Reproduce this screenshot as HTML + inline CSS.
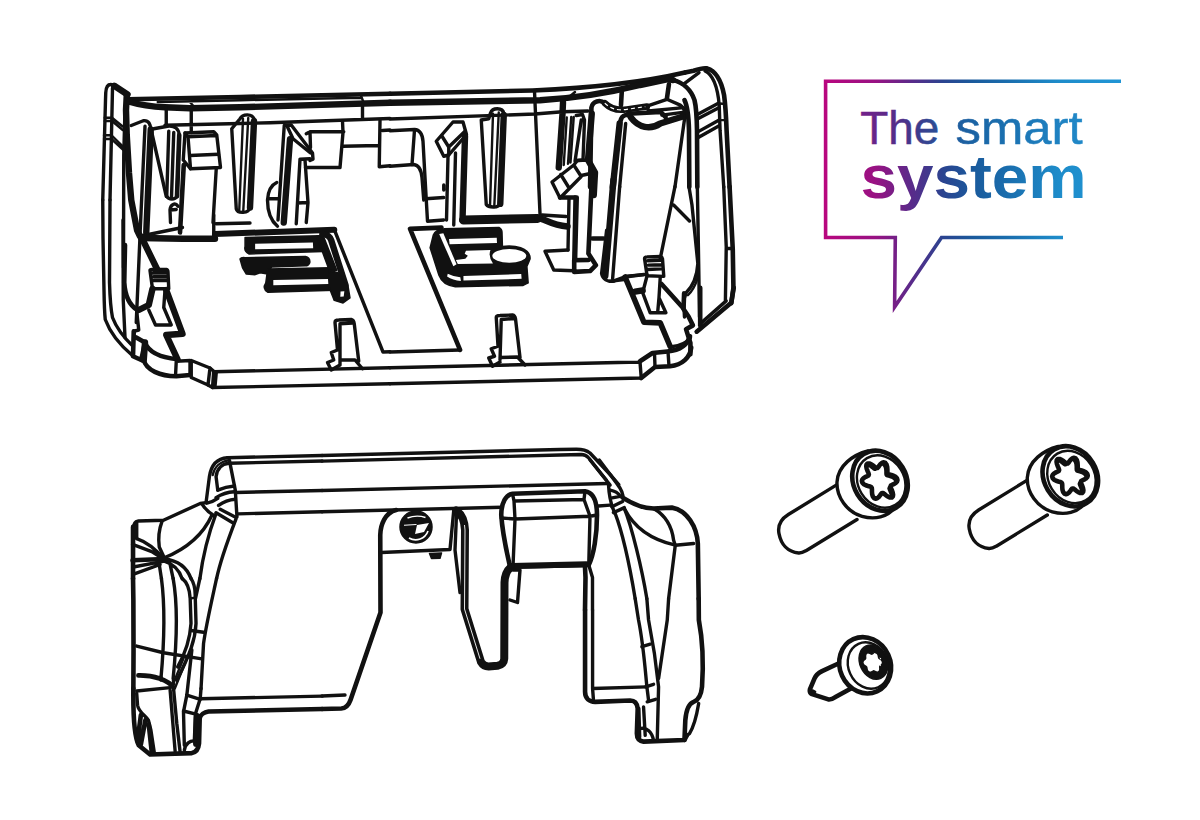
<!DOCTYPE html>
<html lang="en"><head><meta charset="utf-8"><title>The smart system</title>
<style>
html,body{margin:0;padding:0;background:#fff;}
body{width:1200px;height:820px;overflow:hidden;font-family:"Liberation Sans",sans-serif;}
svg{display:block;}
.k,.k2,.k3,.k4,.w{fill:none;stroke:#111;stroke-width:3.4px;stroke-linecap:round;stroke-linejoin:round;vector-effect:non-scaling-stroke;}
.k2{stroke-width:4.6px;}
.k3{stroke-width:2.4px;}
.k4{stroke-width:6.4px;}
.w{fill:#fff;}
.f{fill:#111;stroke:#111;stroke-width:1.5px;stroke-linejoin:round;vector-effect:non-scaling-stroke;}
</style></head><body>
<svg width="1200" height="820" viewBox="0 0 1200 820">
<rect width="1200" height="820" fill="#fff"/>
<defs>
<linearGradient id="lg" gradientUnits="userSpaceOnUse" x1="825" y1="0" x2="1121" y2="0">
<stop offset="0" stop-color="#b8067e"/>
<stop offset="0.17" stop-color="#981283"/>
<stop offset="0.29" stop-color="#5a2a8a"/>
<stop offset="0.40" stop-color="#2a4490"/>
<stop offset="0.50" stop-color="#1a5a9c"/>
<stop offset="0.62" stop-color="#1a6eae"/>
<stop offset="0.79" stop-color="#1e8cca"/>
<stop offset="1" stop-color="#2095d5"/>
</linearGradient>
<linearGradient id="lg1" gradientUnits="userSpaceOnUse" x1="861" y1="0" x2="1082" y2="0">
<stop offset="0" stop-color="#73208a"/>
<stop offset="0.13" stop-color="#5a2a88"/>
<stop offset="0.25" stop-color="#3f3a8c"/>
<stop offset="0.40" stop-color="#1f5a9c"/>
<stop offset="0.56" stop-color="#1a68a8"/>
<stop offset="0.75" stop-color="#1c78b8"/>
<stop offset="1" stop-color="#2088c8"/>
</linearGradient>
</defs>
<g id="logo">
<path d="M1121,81.3 L825.6,81.3 L825.6,237.5 L895.3,237.5 L894.6,307 L941.5,237.5 L1063,237.5" fill="none" stroke="url(#lg)" stroke-width="3.6" stroke-miterlimit="10"/>
<g font-family="'Liberation Sans',sans-serif" font-size="45.5" fill="url(#lg1)" stroke="url(#lg1)" stroke-width="0.5">
<text x="860.3" y="143.8" textLength="79" lengthAdjust="spacingAndGlyphs">The</text>
<text x="955.5" y="143.8" textLength="127" lengthAdjust="spacingAndGlyphs">smart</text>
</g>
<text x="860.5" y="198.3" font-family="'Liberation Sans',sans-serif" font-weight="bold" font-size="61.5" fill="url(#lg)" textLength="226" lengthAdjust="spacingAndGlyphs">system</text>
</g>

<g id="topA" transform="translate(90,60) scale(0.25)">
<!-- flange -->
<path class="k" d="M51,560 L62,160 L63,131 C64,108 72,98 83,98 C91,98 96,101 100,104"/>
<path class="k4" d="M97,103 L150,138"/>
<path class="k" d="M80,560 L89,160 L90,112"/>
<path class="k4" d="M147,140 L144,200 L147,300 L156,452 L165,560 L188,680 L200,705"/>
<path class="k" d="M140,200 L135,380 L134,830"/>
<path class="k3" d="M59,231 L88,231 L131,266 M59,244 L88,244 L131,280 M56,301 L86,301 L136,350 M56,316 L86,316 L136,362"/>
<!-- rim -->
<path class="k2" d="M150,157 L600,148 L1200,135"/>
<path class="k4" d="M158,167 C200,180 250,187 300,189 L400,193 L600,189 L1200,171"/>
<path class="k3" d="M271,168 L600,161 L1085,151 M398,166 L415,186 M1083,140 L1095,172"/>
<path class="k" d="M300,261 L600,254 L720,251 L1200,234 M305,190 L305,256 M405,187 L405,290 M1090,180 L1090,235"/>
<!-- rib1 -->
<path class="k" d="M165,262 L213,243 C235,240 243,258 243,280"/>
<path class="k" d="M220,265 L200,700"/>
<path class="k4" d="M243,278 L225,690"/>
<path class="k" d="M247,290 L305,545"/>
<!-- rib2 -->
<path class="k" d="M255,275 L310,265 C340,262 355,275 357,300 L348,545 C340,560 315,560 307,545"/>
<path class="k" d="M315,285 L307,545 M335,290 L326,548"/>
<path class="k2" d="M357,300 L348,545"/>
<path class="k" d="M322,650 L320,600 C322,578 340,568 352,585 M320,600 L345,598"/>
<!-- block -->
<path class="k2" d="M375,420 L360,690"/>
<path class="k" d="M380,292 L495,287 L507,300 L522,430 L402,435 L392,307 L505,302"/>
<path class="k" d="M380,292 L392,307 M400,382 L514,377 M380,292 L373,400 L402,435"/>
<path class="k" d="M505,435 L492,650"/>
<!-- rib3 -->
<path class="k" d="M567,275 L600,235 C610,215 650,212 658,240 L640,590 C635,615 590,615 585,595 Z"/>
<path class="k3" d="M612,235 L597,600 M633,232 L613,605"/>
<path class="k4" d="M656,245 L640,590"/>
<!-- hook -->
<path class="k" d="M777,262 L752,640 M777,262 L805,260 L890,372 L892,397 L880,402"/>
<path class="k" d="M790,268 L812,315 L882,372 M812,315 L800,317"/>
<path class="k4" d="M800,317 L775,650"/>
<path class="k" d="M840,397 L880,395 M840,397 L825,655 M860,400 L872,570 L830,572 M872,570 L865,650"/>
<path class="k" d="M862,430 L1000,430 L1012,290 L1010,245 M865,295 L880,287 L1015,287 M880,287 L882,350"/>
<path class="k" d="M1012,345 L1155,342 M1160,242 L1157,427 L1200,423 M1170,282 L1200,280"/>
<path class="k" d="M747,490 C725,500 712,525 710,560 C710,600 720,640 750,665 M713,555 L752,555"/>
</g>
<g id="topB" transform="translate(390,60) scale(0.25)">
<path class="k2" d="M0,135 L570,122 C800,112 1000,92 1180,50"/>
<path class="k4" d="M0,171 L600,161 C750,152 900,125 1000,100 L1112,76"/>
<path class="k" d="M578,125 L600,615"/>
<path class="k3" d="M690,170 L740,128"/>
<path class="k" d="M608,620 L704,626"/>
<path class="k" d="M0,236 L580,216 L690,207 L792,204"/>
<!-- step box -->
<path class="k" d="M0,283 L98,278 C122,280 130,300 132,325 L140,470 L150,645 L215,640"/>
<path class="k" d="M0,425 L95,418 C115,420 125,440 128,470 L135,560 M143,555 L215,550"/>
<path class="k" d="M98,280 L88,418"/>
<!-- hook2 -->
<path class="k" d="M185,325 L252,248 L292,248 L306,298 L235,380 L215,385 Z"/>
<path class="k" d="M208,305 L235,348 L300,285 M235,348 L235,380"/>
<path class="k" d="M232,385 L226,640 M262,372 L255,660 M215,500 L215,520"/>
<path class="k4" d="M300,305 L290,640"/>
<!-- rib5 -->
<path class="k" d="M365,240 L395,235 L402,212 C410,190 450,188 456,215 L440,575 C435,592 395,592 385,578 Z"/>
<path class="k3" d="M412,215 L400,585 M435,210 L417,588"/>
<path class="k4" d="M455,220 L441,575"/>
<!-- floor junction -->
<path d="M294,640 L590,634" fill="none" stroke="#111" stroke-width="9" stroke-linecap="round" vector-effect="non-scaling-stroke"/>
<path class="k4" d="M590,632 C620,634 640,660 710,666"/>
<!-- ribs 6 and hook 3 -->
<path class="k4" d="M692,170 L690,215 L675,430"/>
<path class="k3" d="M707,230 L695,420 M725,228 L712,415 M735,228 L722,410"/>
<path class="k" d="M745,222 L770,218 L778,240 L772,400 L750,402 M765,240 L740,405"/>
<path class="k4" d="M807,215 L792,400 L820,450 L815,540"/>
<path class="k" d="M648,488 L735,420 L765,466 L680,552 Z M683,458 L715,510 M750,402 L792,400 L820,450 L765,462 M735,420 L750,402"/>
<path class="k" d="M740,548 L735,800 M716,556 L712,760"/>
</g>
<g id="topC1" transform="translate(560,50) scale(0.16708)">
<path class="k2" d="M748,135 L800,124 C835,112 860,106 880,110 C930,125 965,180 982,270 C990,330 995,420 997,480 L1015,820"/>
<path class="k4" d="M646,174 L676,180"/>
<path class="k2" d="M676,180 C736,195 785,240 805,300 C815,340 819,420 820,480 L822,820"/>
<path class="k" d="M868,126 C920,150 945,240 953,330 L958,480 L980,820"/>
<path class="k" d="M742,203 L832,135"/>
<path class="k2" d="M370,245 L365,330 M652,205 L640,290"/>
<path class="k" d="M825,385 L945,320 M825,412 L945,348 M825,490 L950,420 M825,525 L950,455"/>
<path class="k3" d="M945,320 L975,322 M950,420 L985,420"/>
<!-- big clip top -->
<path class="k2" d="M180,820 L188,345 C195,305 240,295 268,318"/>
<path class="k4" d="M268,318 C300,350 340,365 400,355 L520,338"/>
<path d="M268,318 C300,350 340,365 400,355 L520,338" fill="none" stroke="#fff" stroke-width="1.2" stroke-dasharray="4 3" vector-effect="non-scaling-stroke"/>
<path class="k" d="M520,338 L530,365 L740,345 M525,335 L640,295 L720,330 C740,345 745,360 748,380 M610,390 L745,372"/>
<path class="k4" d="M316,820 L357,440"/>
<path class="k2" d="M357,440 L362,425 C370,385 410,378 425,405"/>
<path class="k4" d="M425,405 C470,465 540,480 600,440 L745,395"/>
<path class="k2" d="M407,382 L602,371 L632,401"/>
<path class="k" d="M357,820 L393,440 M748,395 L688,820"/>
<path class="k2" d="M745,300 C760,330 770,400 772,480 L774,820"/>
</g>
<g id="topC2" transform="translate(560,180) scale(0.16708)">
<path class="k2" d="M1015,40 L1034,415 L1038,645 L1025,738"/>
<path class="k" d="M980,40 L995,400 L990,720 M995,410 L1030,410"/>
<path class="k" d="M822,40 L830,500 L835,820"/>
<path class="k" d="M772,40 L790,150 L805,300 L825,500 C820,580 800,630 755,675 L740,720 L745,820"/>
<path class="k" d="M688,40 L600,470 M680,150 L775,245"/>
<!-- clip bottom -->
<path class="k4" d="M320,0 L271,575"/>
<path class="k" d="M279,301 L249,560 C255,595 285,610 320,605"/>
<path class="k" d="M320,605 L400,575 L520,565"/>
<path class="k" d="M357,40 L315,590"/>
<!-- left column bottom -->
<path class="k2" d="M190,0 L170,440 L215,510 L180,545 L85,550 L85,480 L170,478 M100,105 L90,480 M0,105 L100,105 M195,350 L260,350"/>
</g>
<g id="topD" transform="translate(90,200) scale(0.25)">
<!-- left wall lower -->
<path class="k" d="M51,0 L52,150 L56,360 C57,420 58,450 61,478 C80,530 125,585 172,624"/>
<path class="k" d="M80,0 L78,330 C80,400 84,440 90,470 C105,510 135,550 172,585"/>
<path class="k" d="M132,80 L133,400 L140,550"/>
<path class="k2" d="M140,180 L137,330 C140,380 155,420 190,440"/>
<path class="k" d="M200,145 L185,490"/>
<path class="k4" d="M205,147 L270,280"/>
<path class="k" d="M200,145 L370,110"/>
<path class="k4" d="M205,152 L370,155 L500,155"/>
<path class="k" d="M495,60 L495,155 M505,95 L640,92"/>
<!-- latch L -->
<path class="k" d="M240,282 Q240,278 248,278 L305,278 Q312,280 312,288 L315,355 L250,355 Z M252,292 L306,292 M254,307 L308,307 M255,322 L310,322"/>
<path class="k4" d="M250,355 L235,420 L195,440"/>
<path class="k4" d="M305,360 L370,535 L305,540 L350,637"/>
<path class="k" d="M300,360 L295,430 L325,500 L262,500 L235,440"/>
<path class="k" d="M185,430 L195,520 L175,525"/>
<!-- corner blocks -->
<path class="k2" d="M175,525 L172,625 L205,640 L220,570 L185,550"/>
<path class="k2" d="M220,570 C235,610 280,630 350,637"/>
<path class="k2" d="M215,640 C225,680 280,705 345,705 L400,700"/>
<path class="k4" d="M220,570 L215,640"/>
<path class="k" d="M345,645 L400,642 L400,700 M345,645 L342,705"/>
<path class="k" d="M405,642 L480,672 L472,740 L405,710 Z"/>
<path class="k" d="M480,672 L495,685 L490,750 L472,740 M505,690 L500,745"/>
<path class="k" d="M495,687 L1200,671 M490,750 L1200,735"/>
<!-- platform edge -->
<path class="k" d="M977,118 L1172,608 L1200,607"/>
<!-- centre latch -->
<path class="k" d="M980,490 Q980,480 995,480 L1045,478 Q1055,480 1057,495 L1075,645 M1000,495 L1050,492 M1000,495 L1000,660 M980,490 L990,600 L965,610 L975,640 L950,650 L965,680 L1000,660 M1000,640 L1060,640 L1090,675"/>
</g>
<g id="topCN" transform="translate(230,220) scale(0.12563)">
<path d="M-120,112 L830,78" fill="none" stroke="#111" stroke-width="6" stroke-linecap="round" vector-effect="non-scaling-stroke"/>
<path class="f" d="M120,140 L720,125 L740,250 L150,270 Q110,250 120,210 Z"/>
<path d="M200,190 L660,180 L662,225 L200,232 Z" fill="#fff"/>
<path class="f" d="M80,310 Q90,295 120,300 L600,290 Q640,300 635,340 Q625,365 600,365 L330,375 L300,430 L240,420 L200,435 L130,430 L100,380 Z"/>
<path class="f" d="M300,390 L800,380 L830,560 L300,575 Q255,545 285,500 Z"/>
<path d="M345,478 L780,470 L785,510 L345,520 Z" fill="#fff"/>
<path class="f" d="M690,130 L740,120 L850,400 L790,400 Z"/>
<path class="k4" d="M735,112 Q790,115 805,160 L920,520"/>
<path class="f" d="M790,400 L860,420 L940,530 L955,620 L900,660 L830,640 L790,540 Z"/>
<path d="M880,570 L910,568 L905,608 L878,610 Z" fill="#fff"/>
</g>
<g id="topE" transform="translate(390,200) scale(0.25)">
<path class="k" d="M712,200 L620,205 L655,280 L735,283"/>
<!-- centre latch 2 -->
<path class="k" d="M425,470 Q425,462 440,462 L490,460 Q500,462 502,475 L520,630 M445,478 L497,474 M445,478 L440,640 M425,470 L432,585 L405,595 L418,625 L395,632 L410,665 L440,648 M440,630 L510,628 L540,660"/>
<!-- platform bottom edge -->
<path class="k" d="M0,608 L280,600"/>
<!-- bottom edge -->
<path class="k" d="M0,671 L1000,648 M0,735 L1005,712 L1000,648"/>
<path class="k2" d="M1000,645 L1050,612 L1110,606 C1160,600 1190,580 1200,545"/>
<path class="k2" d="M1005,712 L1060,668 L1120,665 C1170,660 1200,630 1205,590"/>
<path class="k" d="M1058,612 L1060,668 M1112,606 L1116,665"/>
</g>
<g id="topCN2" transform="translate(400,210) scale(0.12563)">
<path class="k2" d="M478,1114 L80,150 L330,140"/>
<path class="f" d="M240,300 L265,200 Q290,150 350,150 L790,140 Q812,150 812,180 L815,290 Q900,280 960,300 Q1040,330 1035,390 L1010,450 L1020,580 L980,600 L440,610 Q340,600 310,520 Z"/>
<path d="M312,192 L345,186 L450,432 L425,448 Z" fill="#fff"/>
<path d="M390,230 L770,220 L772,262 L395,272 Z" fill="#fff"/>
<path d="M525,325 L720,318 Q700,370 740,425 L460,430 L445,398 L520,388 L540,365 L515,348 Z" fill="#fff"/>
<ellipse cx="870" cy="365" rx="135" ry="55" fill="#fff"/>
<path d="M380,508 Q420,530 480,535 L485,565 Q420,560 375,530 Z M505,525 L965,510 L968,548 L505,562 Z" fill="#fff"/>
</g>
<g id="topR8" transform="translate(610,250) scale(0.12563)">
<path class="k2" d="M985,300 L965,420 L690,650"/>
<path class="k" d="M925,405 L715,590"/>
<path class="k2" d="M718,300 L718,600"/>
<path class="k2" d="M590,345 L585,470 L625,530 L660,600 L605,630 L640,740 L640,830"/>
<path class="k3" d="M700,100 C720,200 680,300 620,360"/>
<path class="k" d="M275,70 Q275,55 295,55 L405,52 Q415,55 418,70 L428,210 L295,205 Z M300,85 L405,82 M305,120 L410,117 M300,155 L410,150"/>
<path class="k" d="M295,205 L260,340 L320,500 L445,500 L390,380 L400,215 M390,380 L380,490"/>
<path class="k2" d="M410,270 L580,460"/>
<path d="M120,215 L270,575 L400,580 L480,770" fill="none" stroke="#111" stroke-width="5.6" stroke-linejoin="round" stroke-linecap="round" vector-effect="non-scaling-stroke"/>
<path class="k4" d="M200,332 L260,322"/>
<path class="k" d="M120,215 L270,195 M0,250 L110,235"/>
<path class="k" d="M490,770 C560,760 610,740 640,700"/>
</g>

<g id="botG1" transform="translate(120,440) scale(0.16708)">
<path class="k" d="M643,106 L1210,93 M652,139 L1210,126"/>
<path class="k" d="M643,106 C580,110 545,152 535,220 L515,375"/>
<path class="k" d="M652,139 C610,142 580,172 575,220 L585,300"/>
<path class="k3" d="M650,122 C600,128 565,162 555,210"/>
<path class="k" d="M655,122 L690,300 L700,460"/>
<path class="k" d="M690,314 L1210,302 M705,442 L1210,429"/>
<path class="k" d="M585,300 C620,285 650,278 685,275 M575,345 C610,322 645,312 685,310 M590,392 C620,370 650,358 690,355 M575,435 L675,495 M600,415 L692,462 M520,378 C545,372 565,365 585,350"/>
<path class="k" d="M515,375 L480,380 L260,480 L110,485 C85,488 78,510 78,540"/>
<path class="k2" d="M78,520 L78,830"/>
<path class="k" d="M100,500 L100,590"/>
<path class="k" d="M252,485 C235,530 228,590 235,640 L265,705"/>
<path class="k" d="M490,382 C515,420 540,440 560,450"/>
<path class="k" d="M550,450 C500,560 400,650 265,705"/>
<path class="k" d="M575,440 C530,560 495,700 478,830 M695,470 C645,600 600,720 578,830"/>
<path class="k" d="M100,590 C160,610 220,660 265,715 M75,625 L190,668 L265,715"/>
<path class="k2" d="M75,720 L265,712"/>
<path class="k" d="M80,760 L265,725 M90,800 L240,745"/>
<path class="k" d="M265,712 C340,720 400,760 425,830 M265,725 C315,740 355,780 372,830 M235,745 L248,830 M300,745 L318,830"/>
</g>
<g id="botG2" transform="translate(120,550) scale(0.16708)">
<path class="k2" d="M78,170 L80,300 L81,600 L80,830"/>
<path class="k" d="M248,170 C268,320 265,550 245,770"/>
<path class="k" d="M318,170 C345,320 340,550 318,770"/>
<path class="k" d="M425,170 C445,200 450,240 450,270 L455,440 C450,540 420,620 340,780"/>
<path class="k" d="M372,170 C410,200 418,250 420,290 L425,440 C420,520 390,620 345,700"/>
<path class="k3" d="M420,290 L450,285"/>
<path class="k" d="M425,482 L500,492"/>
<path class="k" d="M478,170 L452,290"/>
<path class="k" d="M578,170 C550,300 515,450 500,560 L485,830"/>
<path class="k" d="M100,575 L260,615 L490,652"/>
</g>
<g id="botG3" transform="translate(120,650) scale(0.16708)">
<path class="k2" d="M80,230 C78,400 86,520 112,570 L180,625 L430,617 C455,612 470,592 473,560 L477,410 C480,388 505,372 530,368 L1210,353"/>
<path class="k" d="M100,260 L105,330 C110,370 150,390 170,420 L185,480 L205,612"/>
<path class="k" d="M480,292 L1210,276"/>
<path class="k" d="M485,230 L480,292 L452,380 L445,540"/>
<path d="M462,400 L458,560" fill="none" stroke="#111" stroke-width="7" stroke-linecap="round" vector-effect="non-scaling-stroke"/>
<path class="k" d="M400,270 L480,295 M380,365 L460,385"/>
<path class="k" d="M430,0 L400,270 L380,370 L385,570"/>
<path class="k2" d="M110,152 C200,150 290,180 320,225"/>
<path class="k" d="M100,245 L300,225"/>
<path class="k" d="M320,225 L340,440 L360,612 M300,240 L330,605"/>
<path class="k3" d="M310,222 L384,40 M328,230 L402,46"/>
<path class="k" d="M245,180 L245,160 M320,180 L320,205"/>
<path class="k" d="M385,600 C390,560 420,540 450,545"/>
<path class="k2" d="M125,390 L105,540 M152,420 L125,565 M172,445 L190,610"/>
</g>
<g id="botH" transform="translate(110,430) scale(0.25)">
<path class="k" d="M848,102 L1800,78 L1866,77 C1890,77 1905,80 1920,92 L2006,184 L2035,218"/>
<path class="k" d="M848,124.5 L1800,100 L1885,98 C1900,98 1908,104 1915,112 L1972,184 L1985,200"/>
<path class="k" d="M848,242 L1990,214"/>
<path class="k" d="M848,327 L1568,309"/>
<path class="k2" d="M1145,320 C1100,330 1082,380 1081,420 L1082,730 L962,1080 C955,1100 945,1113 925,1114 L848,1116"/>
<path class="k" d="M848,1064 L940,1060"/>
<path class="k" d="M1085,490 L1360,478 L1375,322"/>
<path class="f" d="M1278,494 L1286,514 L1320,513 L1326,492 Z"/>
<circle class="f" cx="1224" cy="388" r="64"/>
<path d="M1228,380 L1276,372 L1256,408 L1220,416 Z" fill="#fff"/>
<path d="M1196,432 A52,52 0 0 0 1272,404" fill="none" stroke="#fff" stroke-width="1.6" vector-effect="non-scaling-stroke"/>
<path d="M1190,352 Q1226,338 1262,350" fill="none" stroke="#fff" stroke-width="1.4" vector-effect="non-scaling-stroke"/>
<path d="M1176,381 L1226,378" fill="none" stroke="#fff" stroke-width="1" vector-effect="non-scaling-stroke"/>
<!-- tongue -->
<path d="M1385,322 C1405,335 1418,360 1420,400 L1418,716 L1484,928 C1492,942 1502,946 1514,946 L1550,943 C1566,940 1576,930 1577,915 L1578,610 C1579,580 1588,562 1602,550" fill="none" stroke="#111" stroke-width="8" stroke-linecap="round" stroke-linejoin="round" vector-effect="non-scaling-stroke"/>
<path d="M1418,380 L1420,400 L1418,716 L1480,915" fill="none" stroke="#fff" stroke-width="0.9" stroke-linejoin="round" vector-effect="non-scaling-stroke"/>
<path class="k" d="M1386,335 L1380,480 L1400,650"/>
<!-- recess 2 -->
<path class="k2" d="M1565,340 C1565,290 1585,258 1610,255 L1900,245 C1935,250 1948,290 1948,340 C1948,420 1935,500 1915,540 L1600,547 C1590,500 1570,420 1565,340 Z"/>
<path d="M1606,544 L1905,537" fill="none" stroke="#111" stroke-width="6" stroke-linecap="round" vector-effect="non-scaling-stroke"/>
<path class="k" d="M1616,284 L1896,278 L1920,345 M1565,352 L1620,356 L1920,345 L1948,340 M1616,284 L1620,356 L1612,545 M1920,345 L1915,540 M1610,255 L1616,284 M1900,245 L1896,278"/>
<path class="k" d="M1612,560 L1640,560 L1630,690 L1600,680"/>
<path class="k" d="M1915,540 L1930,590 L1930,720"/>
<path class="k2" d="M1900,548 L1902,590 L1900,720"/>
</g>
<g id="botG4" transform="translate(560,620) scale(0.16708)">
<path class="k2" d="M150,-60 L150,430 C150,470 175,490 210,490 L420,482 C450,482 462,500 465,530 L460,680 C460,710 475,725 500,728 L745,718 L760,690"/>
<path class="k" d="M195,-60 L195,410 L520,400 M195,410 L200,475"/>
<path class="k" d="M450,-127 L470,0 C500,150 510,300 520,400 L530,480"/>
<path class="k" d="M520,-127 L530,0 C560,150 580,300 590,400 L582,720"/>
<path class="k" d="M650,-127 L642,0 L590,350"/>
<path class="k" d="M490,160 L540,145 M512,400 L560,385 M522,490 L572,475"/>
<path class="k2" d="M830,-127 L831,0 C850,100 860,250 850,400 C845,450 830,480 800,490 C770,500 755,540 750,600 L745,718"/>
<path class="k" d="M830,500 C820,560 800,640 775,680 L760,690"/>
<path class="k" d="M472,530 L477,700 M500,520 L510,690 M478,650 C520,640 550,670 560,720"/>
</g>
<g id="botG5" transform="translate(560,460) scale(0.16708)">
<path class="k" d="M180,0 L300,150 M235,0 L340,140 C370,180 380,205 375,225"/>
<path class="k" d="M290,145 C293,200 298,260 330,320 C380,450 420,650 450,830"/>
<path class="k" d="M230,275 L300,270"/>
<path class="k" d="M300,180 C330,185 350,200 360,215 M305,228 L375,215 M310,280 L375,248 M320,315 L385,285"/>
<path class="k2" d="M375,225 C430,260 500,290 560,290 L670,285 C760,300 820,400 825,500 L830,830"/>
<path class="k" d="M560,290 C630,330 670,400 680,480 L690,510 L650,830"/>
<path class="k" d="M385,290 C450,420 560,480 690,510 L800,500"/>
<path class="k" d="M385,290 C430,400 490,650 520,830"/>
</g>

<g id="screws">
<g transform="translate(780,610) scale(0.1256)">
<path class="k2 w" d="M465,426 L335,487 C300,505 285,520 275,545 L238,632 C234,650 240,662 255,670 L385,712 C410,716 430,700 445,690 L565,625"/>
<path class="k3" d="M258,640 L280,652 L266,664Z"/>
<ellipse class="w" style="stroke-width:4.6px" cx="678" cy="440" rx="228" ry="202" transform="rotate(65.6 678 440)"/>
<ellipse class="w" style="stroke-width:2.4px" cx="703" cy="442" rx="190" ry="158" transform="rotate(65.6 703 442)"/>
<ellipse class="f" cx="744" cy="415" rx="142" ry="108" transform="rotate(65.6 744 415)"/>
<path d="M769.8,488.1 L776.8,488.7 L782.6,486.4 L786.7,481.5 L788.7,474.4 L789.0,466.5 L788.5,458.8 L788.2,452.2 L789.1,447.0 L791.9,442.7 L796.4,438.8 L801.7,434.5 L806.6,429.1 L809.9,422.8 L810.5,415.9 L808.2,409.1 L803.5,403.0 L797.3,398.0 L791.0,394.0 L785.6,390.3 L781.8,386.3 L779.6,381.1 L778.3,374.5 L777.0,366.9 L774.8,359.0 L771.1,352.2 L765.9,347.5 L759.5,345.6 L752.8,346.5 L746.3,349.5 L740.5,353.1 L735.5,356.1 L730.7,357.3 L725.7,356.4 L719.9,353.7 L713.3,350.4 L706.2,347.9 L699.2,347.3 L693.4,349.6 L689.3,354.5 L687.3,361.6 L687.0,369.5 L687.5,377.2 L687.8,383.8 L686.9,389.0 L684.1,393.3 L679.6,397.2 L674.3,401.5 L669.4,406.9 L666.1,413.2 L665.5,420.1 L667.8,426.9 L672.5,433.0 L678.7,438.0 L685.0,442.0 L690.4,445.7 L694.2,449.7 L696.4,454.9 L697.7,461.5 L699.0,469.1 L701.2,477.0 L704.9,483.8 L710.1,488.5 L716.5,490.4 L723.2,489.5 L729.7,486.5 L735.5,482.9 L740.5,479.9 L745.3,478.7 L750.3,479.6 L756.1,482.3 L762.7,485.6Z" fill="#fff"/>
<path d="M745,340 l18,10 l-8,12Z M792,378 l14,6 l-6,12Z M790,438 l12,-6 l2,16Z" fill="#fff"/>
</g>
<g transform="translate(760,430) scale(0.16667)">
<path class="w" d="M462,328 L170,507 C125,535 105,575 114,622 C126,685 165,732 232,738 C252,739 266,730 276,724 L582,537"/>
<path class="w" d="M648,126 C560,148 468,212 462,312 C458,400 520,492 612,518 C690,540 765,522 808,466"/>
<ellipse class="k2 w" cx="720" cy="305" rx="188" ry="158" transform="rotate(58.7 720 305)"/>
<ellipse class="k3" cx="727" cy="309" rx="164" ry="138" transform="rotate(58.7 727 309)"/>
<clipPath id="sc"><path d="M780.3,405.4 L790.6,405.2 L797.0,398.9 L798.5,387.5 L795.7,373.4 L790.4,359.3 L785.2,347.4 L782.8,338.9 L785.0,333.3 L791.9,329.2 L802.2,324.8 L813.1,318.6 L821.5,310.2 L824.8,300.1 L821.9,289.8 L813.4,280.8 L801.1,274.2 L788.0,270.1 L776.7,267.3 L769.0,264.0 L765.2,258.2 L764.3,248.8 L764.3,236.0 L763.1,221.5 L759.2,207.8 L752.3,197.9 L743.0,193.9 L732.8,196.3 L723.4,203.8 L715.6,213.8 L709.5,222.9 L704.2,228.1 L698.2,228.0 L690.4,222.6 L680.1,214.2 L668.0,205.8 L655.7,200.6 L645.4,200.8 L639.0,207.1 L637.5,218.5 L640.3,232.6 L645.6,246.7 L650.8,258.6 L653.2,267.1 L651.0,272.7 L644.1,276.8 L633.8,281.2 L622.9,287.4 L614.5,295.8 L611.2,305.9 L614.1,316.2 L622.6,325.2 L634.9,331.8 L648.0,335.9 L659.3,338.7 L667.0,342.0 L670.8,347.8 L671.7,357.2 L671.7,370.0 L672.9,384.5 L676.8,398.2 L683.7,408.1 L693.0,412.1 L703.2,409.7 L712.6,402.2 L720.4,392.2 L726.5,383.1 L731.8,377.9 L737.8,378.0 L745.6,383.4 L755.9,391.8 L768.0,400.2Z"/></clipPath>
<path class="k3" clip-path="url(#sc)" d="M768.3,416.4 L778.6,416.2 L785.0,409.9 L786.5,398.5 L783.7,384.4 L778.4,370.3 L773.2,358.4 L770.8,349.9 L773.0,344.3 L779.9,340.2 L790.2,335.8 L801.1,329.6 L809.5,321.2 L812.8,311.1 L809.9,300.8 L801.4,291.8 L789.1,285.2 L776.0,281.1 L764.7,278.3 L757.0,275.0 L753.2,269.2 L752.3,259.8 L752.3,247.0 L751.1,232.5 L747.2,218.8 L740.3,208.9 L731.0,204.9 L720.8,207.3 L711.4,214.8 L703.6,224.8 L697.5,233.9 L692.2,239.1 L686.2,239.0 L678.4,233.6 L668.1,225.2 L656.0,216.8 L643.7,211.6 L633.4,211.8 L627.0,218.1 L625.5,229.5 L628.3,243.6 L633.6,257.7 L638.8,269.6 L641.2,278.1 L639.0,283.7 L632.1,287.8 L621.8,292.2 L610.9,298.4 L602.5,306.8 L599.2,316.9 L602.1,327.2 L610.6,336.2 L622.9,342.8 L636.0,346.9 L647.3,349.7 L655.0,353.0 L658.8,358.8 L659.7,368.2 L659.7,381.0 L660.9,395.5 L664.8,409.2 L671.7,419.1 L681.0,423.1 L691.2,420.7 L700.6,413.2 L708.4,403.2 L714.5,394.1 L719.8,388.9 L725.8,389.0 L733.6,394.4 L743.9,402.8 L756.0,411.2Z"/>
<path class="k2" d="M780.3,405.4 L790.6,405.2 L797.0,398.9 L798.5,387.5 L795.7,373.4 L790.4,359.3 L785.2,347.4 L782.8,338.9 L785.0,333.3 L791.9,329.2 L802.2,324.8 L813.1,318.6 L821.5,310.2 L824.8,300.1 L821.9,289.8 L813.4,280.8 L801.1,274.2 L788.0,270.1 L776.7,267.3 L769.0,264.0 L765.2,258.2 L764.3,248.8 L764.3,236.0 L763.1,221.5 L759.2,207.8 L752.3,197.9 L743.0,193.9 L732.8,196.3 L723.4,203.8 L715.6,213.8 L709.5,222.9 L704.2,228.1 L698.2,228.0 L690.4,222.6 L680.1,214.2 L668.0,205.8 L655.7,200.6 L645.4,200.8 L639.0,207.1 L637.5,218.5 L640.3,232.6 L645.6,246.7 L650.8,258.6 L653.2,267.1 L651.0,272.7 L644.1,276.8 L633.8,281.2 L622.9,287.4 L614.5,295.8 L611.2,305.9 L614.1,316.2 L622.6,325.2 L634.9,331.8 L648.0,335.9 L659.3,338.7 L667.0,342.0 L670.8,347.8 L671.7,357.2 L671.7,370.0 L672.9,384.5 L676.8,398.2 L683.7,408.1 L693.0,412.1 L703.2,409.7 L712.6,402.2 L720.4,392.2 L726.5,383.1 L731.8,377.9 L737.8,378.0 L745.6,383.4 L755.9,391.8 L768.0,400.2Z"/>
</g>
<g transform="translate(950.3,425.5) scale(0.16667)">
<path class="w" d="M462,328 L170,507 C125,535 105,575 114,622 C126,685 165,732 232,738 C252,739 266,730 276,724 L582,537"/>
<path class="w" d="M648,126 C560,148 468,212 462,312 C458,400 520,492 612,518 C690,540 765,522 808,466"/>
<ellipse class="k2 w" cx="720" cy="305" rx="188" ry="158" transform="rotate(58.7 720 305)"/>
<ellipse class="k3" cx="727" cy="309" rx="164" ry="138" transform="rotate(58.7 727 309)"/>
<clipPath id="sc"><path d="M780.3,405.4 L790.6,405.2 L797.0,398.9 L798.5,387.5 L795.7,373.4 L790.4,359.3 L785.2,347.4 L782.8,338.9 L785.0,333.3 L791.9,329.2 L802.2,324.8 L813.1,318.6 L821.5,310.2 L824.8,300.1 L821.9,289.8 L813.4,280.8 L801.1,274.2 L788.0,270.1 L776.7,267.3 L769.0,264.0 L765.2,258.2 L764.3,248.8 L764.3,236.0 L763.1,221.5 L759.2,207.8 L752.3,197.9 L743.0,193.9 L732.8,196.3 L723.4,203.8 L715.6,213.8 L709.5,222.9 L704.2,228.1 L698.2,228.0 L690.4,222.6 L680.1,214.2 L668.0,205.8 L655.7,200.6 L645.4,200.8 L639.0,207.1 L637.5,218.5 L640.3,232.6 L645.6,246.7 L650.8,258.6 L653.2,267.1 L651.0,272.7 L644.1,276.8 L633.8,281.2 L622.9,287.4 L614.5,295.8 L611.2,305.9 L614.1,316.2 L622.6,325.2 L634.9,331.8 L648.0,335.9 L659.3,338.7 L667.0,342.0 L670.8,347.8 L671.7,357.2 L671.7,370.0 L672.9,384.5 L676.8,398.2 L683.7,408.1 L693.0,412.1 L703.2,409.7 L712.6,402.2 L720.4,392.2 L726.5,383.1 L731.8,377.9 L737.8,378.0 L745.6,383.4 L755.9,391.8 L768.0,400.2Z"/></clipPath>
<path class="k3" clip-path="url(#sc)" d="M768.3,416.4 L778.6,416.2 L785.0,409.9 L786.5,398.5 L783.7,384.4 L778.4,370.3 L773.2,358.4 L770.8,349.9 L773.0,344.3 L779.9,340.2 L790.2,335.8 L801.1,329.6 L809.5,321.2 L812.8,311.1 L809.9,300.8 L801.4,291.8 L789.1,285.2 L776.0,281.1 L764.7,278.3 L757.0,275.0 L753.2,269.2 L752.3,259.8 L752.3,247.0 L751.1,232.5 L747.2,218.8 L740.3,208.9 L731.0,204.9 L720.8,207.3 L711.4,214.8 L703.6,224.8 L697.5,233.9 L692.2,239.1 L686.2,239.0 L678.4,233.6 L668.1,225.2 L656.0,216.8 L643.7,211.6 L633.4,211.8 L627.0,218.1 L625.5,229.5 L628.3,243.6 L633.6,257.7 L638.8,269.6 L641.2,278.1 L639.0,283.7 L632.1,287.8 L621.8,292.2 L610.9,298.4 L602.5,306.8 L599.2,316.9 L602.1,327.2 L610.6,336.2 L622.9,342.8 L636.0,346.9 L647.3,349.7 L655.0,353.0 L658.8,358.8 L659.7,368.2 L659.7,381.0 L660.9,395.5 L664.8,409.2 L671.7,419.1 L681.0,423.1 L691.2,420.7 L700.6,413.2 L708.4,403.2 L714.5,394.1 L719.8,388.9 L725.8,389.0 L733.6,394.4 L743.9,402.8 L756.0,411.2Z"/>
<path class="k2" d="M780.3,405.4 L790.6,405.2 L797.0,398.9 L798.5,387.5 L795.7,373.4 L790.4,359.3 L785.2,347.4 L782.8,338.9 L785.0,333.3 L791.9,329.2 L802.2,324.8 L813.1,318.6 L821.5,310.2 L824.8,300.1 L821.9,289.8 L813.4,280.8 L801.1,274.2 L788.0,270.1 L776.7,267.3 L769.0,264.0 L765.2,258.2 L764.3,248.8 L764.3,236.0 L763.1,221.5 L759.2,207.8 L752.3,197.9 L743.0,193.9 L732.8,196.3 L723.4,203.8 L715.6,213.8 L709.5,222.9 L704.2,228.1 L698.2,228.0 L690.4,222.6 L680.1,214.2 L668.0,205.8 L655.7,200.6 L645.4,200.8 L639.0,207.1 L637.5,218.5 L640.3,232.6 L645.6,246.7 L650.8,258.6 L653.2,267.1 L651.0,272.7 L644.1,276.8 L633.8,281.2 L622.9,287.4 L614.5,295.8 L611.2,305.9 L614.1,316.2 L622.6,325.2 L634.9,331.8 L648.0,335.9 L659.3,338.7 L667.0,342.0 L670.8,347.8 L671.7,357.2 L671.7,370.0 L672.9,384.5 L676.8,398.2 L683.7,408.1 L693.0,412.1 L703.2,409.7 L712.6,402.2 L720.4,392.2 L726.5,383.1 L731.8,377.9 L737.8,378.0 L745.6,383.4 L755.9,391.8 L768.0,400.2Z"/>
</g>
</g>


</svg>
</body></html>
